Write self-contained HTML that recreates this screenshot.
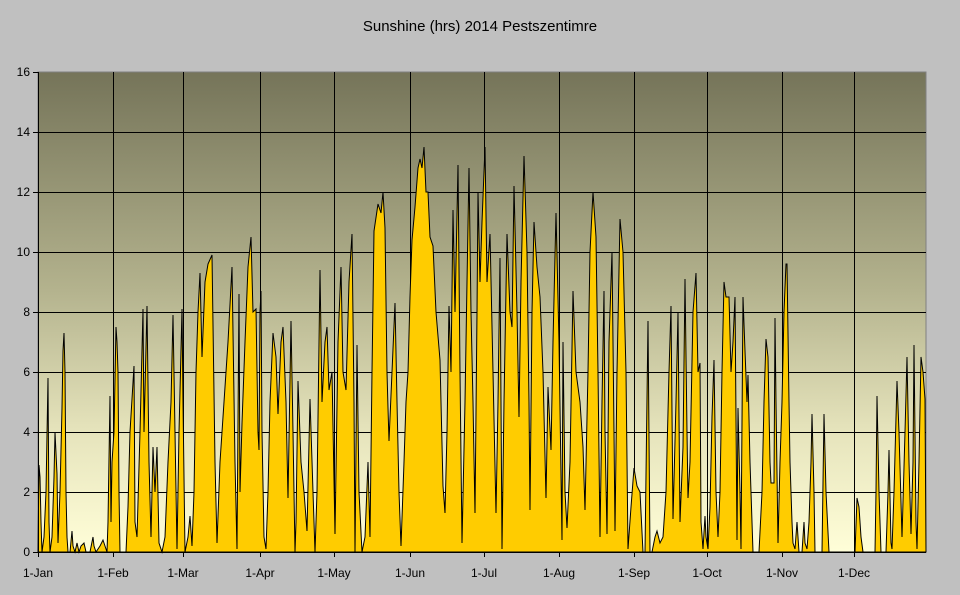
<!DOCTYPE html>
<html><head><meta charset="utf-8"><style>
html,body{margin:0;padding:0;background:#c0c0c0;}
svg{display:block;font-family:"Liberation Sans",Arial,sans-serif;}
</style></head><body>
<svg id="c" width="960" height="595" viewBox="0 0 960 595" xmlns="http://www.w3.org/2000/svg">
<defs><linearGradient id="g" x1="0" y1="0" x2="0" y2="1">
<stop offset="0" stop-color="#757459"/><stop offset="0.45" stop-color="#b3b28d"/><stop offset="0.75" stop-color="#e6e4bc"/><stop offset="1" stop-color="#fffed8"/></linearGradient></defs>
<rect x="0" y="0" width="960" height="595" fill="#c0c0c0"/>
<text x="480" y="31" font-size="15" text-anchor="middle" fill="#000">Sunshine (hrs) 2014 Pestszentimre</text>
<rect x="38" y="72" width="888" height="480" fill="url(#g)" stroke="#808080" stroke-width="1"/>
<g id="grid" stroke="#000" stroke-width="1"></g>
<path id="area" fill="#ffcc00" stroke="#000" stroke-width="1" stroke-linejoin="miter"/>
<g id="ax" font-size="12" fill="#000"></g>
</svg>
<script>
var pts=[[38,0],[39,2.9],[40,2.5],[41,1],[42,0],[44,0.5],[46,2],[48,5.8],[49,1],[50,0],[52,0.5],[54,2.5],[55,4],[57,2.6],[58,0.3],[60,2],[62,4.8],[63,6.7],[64,7.3],[65,6],[66,2],[67,0.5],[68,0],[70,0],[72,0.7],[73,0.2],[75,0],[77,0.3],[79,0],[81,0.2],[84,0.3],[86,0],[90,0],[93,0.5],[94,0.2],[96,0],[100,0.2],[103,0.4],[105,0.2],[107,0],[108,1],[110,5.2],[111,1],[112,3],[114,4],[116,7.5],[117,7],[118,6],[119,2],[120,0],[126,0],[128,1.5],[130,4],[134,6.2],[135,1],[137,0.5],[140,4],[143,8.1],[144,4],[147,8.2],[149,3],[151,0.5],[153,3.5],[155,2],[157,3.5],[159,0.3],[162,0],[165,0.5],[168,3],[171,5],[173,7.9],[175,4],[177,0.1],[179,4],[182,8.1],[183,5],[185,0],[188,0.5],[190,1.2],[192,0.2],[194,2],[196,6],[198,8],[200,9.3],[202,6.5],[205,9],[208,9.6],[212,9.9],[215,3],[217,0.3],[220,3],[224,5],[228,7],[232,9.5],[235,3],[237,0.1],[239,8.6],[240,2],[242,4.3],[245,7],[248,9.5],[251,10.5],[253,8],[256,8.1],[258,4],[259,3.4],[260,8],[261,8.7],[262,4],[264,0.5],[266,0.1],[268,2],[270,5],[273,7.3],[276,6.5],[278,4.6],[281,7],[283,7.5],[286,5],[288,1.8],[291,7.7],[293,4],[295,0],[296,1],[298,5.7],[301,3],[304,2],[307,0.7],[310,5.1],[313,2],[315,0],[317,2],[320,9.4],[322,5],[325,7],[327,7.5],[329,5.4],[332,6],[335,0.6],[338,7],[341,9.5],[343,6],[346,5.4],[349,9],[352,10.6],[354,5],[355,0],[357,6.9],[359,2],[362,0],[365,0.5],[368,3],[370,0.5],[372,6],[373,8.3],[374,10.7],[378,11.6],[381,11.3],[383,12],[385,10.8],[387,6],[388,4.8],[389,3.7],[392,6],[395,8.3],[397,5],[399,2],[401,0.2],[404,3],[406,5],[408,6],[410,8.5],[412,10.4],[415,11.5],[418,12.8],[420,13.1],[422,12.8],[424,13.5],[426,12],[428,12],[430,10.5],[433,10.2],[436,8],[440,6.4],[443,2.2],[445,1.3],[447,4],[449,8.2],[451,6],[453,11.4],[455,8],[458,12.9],[460,6],[462,0.3],[465,5],[467,9],[469,12.8],[471,8],[473,5],[475,1.3],[477,8],[478,12],[480,9],[482,11],[485,13.5],[487,9],[490,10.6],[493,6],[496,1.3],[498,5],[500,9.8],[502,0.1],[504,5],[507,10.6],[510,8],[512,7.5],[514,12.2],[517,8],[519,4.5],[521,9],[524,13.2],[527,10],[529,5],[530,1.4],[532,8],[534,11],[537,9.5],[540,8.5],[543,6],[546,1.8],[548,5.5],[551,3.4],[553,7],[556,11.3],[559,7],[562,0.4],[563,7],[565,2],[567,0.8],[570,3],[573,8.7],[576,6],[580,5],[583,3.5],[585,1.4],[588,6],[590,10],[593,12],[596,10.5],[598,6],[600,0.5],[602,5],[604,8.7],[605,4],[607,0.6],[609,7],[612,10],[614,4],[615,0.7],[617,6],[620,11.1],[623,10],[626,6],[628,0.1],[631,1.5],[634,2.8],[637,2.2],[640,2],[643,0],[645,0],[648,7.7],[650,0],[652,0],[655,0.5],[657,0.7],[660,0.3],[663,0.5],[666,2],[669,6],[671,8.2],[673,1.1],[676,5],[678,8],[680,1],[683,3.5],[685,9.1],[687,4],[688,1.8],[690,3],[693,8],[696,9.3],[698,6],[700,6.3],[701,1],[703,0.1],[705,1.2],[706,0.5],[708,0.1],[710,1.5],[712,4.5],[714,6.4],[716,2],[718,0.5],[720,2],[722,6],[724,9],[726,8.5],[729,8.5],[731,6],[733,7],[735,8.5],[737,0.4],[738,4.8],[740,2],[741,0.1],[743,8.5],[745,6.7],[747,5],[748,5.9],[750,3],[753,0],[759,0],[762,2],[764,5],[766,7.1],[768,6.5],[770,3],[771,2.3],[774,2.3],[775,7.8],[776,5],[778,0.3],[780,3],[782,5],[784,8],[786,9.6],[787,9.6],[789,5],[790,3],[792,1],[793,0.3],[795,0.1],[797,1],[799,0],[802,0],[804,1],[805,0.3],[807,0.1],[809,1],[811,3],[812,4.6],[814,2],[815,0],[822,0],[824,4.6],[826,2],[829,0],[855,0],[857,1.8],[859,1.5],[861,0.5],[863,0],[875,0],[876,2],[877,5.2],[879,2],[881,0],[886,0],[888,2],[889,3.4],[891,0.3],[892,0.1],[894,2],[897,5.7],[899,4],[902,0.5],[905,4],[907,6.5],[909,3],[911,0.6],[913,3],[914,6.9],[916,1],[917,0.1],[919,3],[921,6.5],[923,6],[925,5.1],[926,0]];
var d="M38,552";pts.forEach(function(p){d+="L"+p[0]+","+(552-p[1]*30).toFixed(1);});d+="L926,552Z";
document.getElementById("area").setAttribute("d",d);
var g=document.getElementById("grid"),ax=document.getElementById("ax"),ns="http://www.w3.org/2000/svg";
function el(t,a,p,txt){var e=document.createElementNS(ns,t);for(var k in a)e.setAttribute(k,a[k]);if(txt!=null)e.textContent=txt;p.appendChild(e);return e;}
for(var i=1;i<=7;i++){var y=552-i*60;el("line",{x1:38,x2:926,y1:y+0.5,y2:y+0.5},g);}
var mx=[38,113,183,260,334,410,484,559,634,707,782,854],ml=["1-Jan","1-Feb","1-Mar","1-Apr","1-May","1-Jun","1-Jul","1-Aug","1-Sep","1-Oct","1-Nov","1-Dec"];
mx.forEach(function(x,i){if(i>0)el("line",{x1:x+0.5,x2:x+0.5,y1:72,y2:552},g);el("line",{x1:x+0.5,x2:x+0.5,y1:552,y2:557,stroke:"#000"},ax);el("text",{x:x,y:577,"text-anchor":"middle"},ax,ml[i]);});
for(var i=0;i<=16;i+=2){var y=552-i*30;el("line",{x1:33,x2:38,y1:y+0.5,y2:y+0.5,stroke:"#000"},ax);el("text",{x:30,y:y+4,"text-anchor":"end"},ax,String(i));}
el("line",{x1:38.5,x2:38.5,y1:72,y2:552,stroke:"#000"},ax);
el("line",{x1:38,x2:926,y1:552.5,y2:552.5,stroke:"#000"},ax);
</script>
</body></html>
